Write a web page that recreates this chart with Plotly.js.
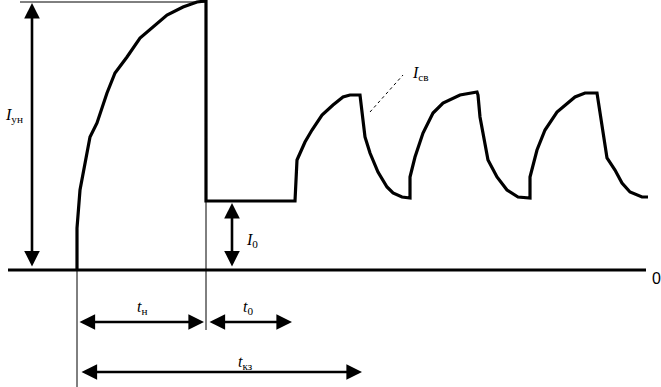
<!DOCTYPE html>
<html>
<head>
<meta charset="utf-8">
<script src="https://cdn.plot.ly/plotly-3.0.1.min.js"></script>
<style>html,body{margin:0;padding:0;background:#fff;}#chart{width:661px;height:387px;}</style>
</head>
<body>
<div id="chart"></div>
<script>
// Welding current waveform: time (t) and current (I), baseline I = 0
var waveT = [77,77,80,85,90,97,107,115,127,140,157,167,183,197,206,
             206,295,297,305,312,322,333,343,350,360,
             362,365,370,378,387,393,402,410,
             410,415,423,433,443,460,477,
             478,480,488,497,507,518,530,
             530,537,545,557,575,585,597,
             600,602,607,615,622,630,642,648];
var waveI = [0,42,80,107,133,147,177,197,213,232,247,255,263,268,269,
             69,69,110,128,140,155,165,173,175,175,
             157,133,117,98,83,77,73,72,
             93,113,137,157,167,175,178,
             175,153,110,93,80,73,72,
             93,120,140,158,173,177,177,
             157,140,112,100,87,78,73,73];
// baseline (time axis)
var axisT = [8, 646];
var axisI = [0, 0];
// labels
var labelIun = "<i>I</i><sub>ун</sub>";
var labelI0 = "<i>I</i><sub>0</sub>";
var labelIsv = "<i>I</i><sub>св</sub>";
var labelTn = "<i>t</i><sub>н</sub>";
var labelT0 = "<i>t</i><sub>0</sub>";
var labelTkz = "<i>t</i><sub>кз</sub>";
var labelZero = "0";

var thin = {color:'#000', width:1};
var traces = [
  {x: axisT, y: axisI, mode:'lines', line:{color:'#000', width:3}, hoverinfo:'skip'},
  {x: [20,205], y: [268,268], mode:'lines', line: thin, hoverinfo:'skip'},
  {x: [206,206], y: [69,-60], mode:'lines', line: thin, hoverinfo:'skip'},
  {x: [77,77], y: [0,-117], mode:'lines', line: thin, hoverinfo:'skip'},
  {x: [370,403], y: [158,195], mode:'lines', line:{color:'#000', width:1, dash:'dot'}, hoverinfo:'skip'},
  {x: waveT, y: waveI, mode:'lines', line:{color:'#000', width:3.2, shape:'linear'}, hoverinfo:'skip'}
];

function arrow(x, y, ax, ay) {
  return {x:x, y:y, ax:ax, ay:ay, xref:'x', yref:'y', axref:'x', ayref:'y',
          showarrow:true, arrowhead:2, arrowside:'end+start', arrowwidth:2.6,
          arrowsize:1.2, arrowcolor:'#000', standoff:0, startstandoff:0, text:''};
}
function label(x, y, txt, size) {
  return {x:x, y:y, xref:'x', yref:'y', text:txt, showarrow:false,
          font:{family:'Liberation Serif', size:size || 16, color:'#000'}};
}

var layout = {
  width:661, height:387,
  margin:{l:0, r:0, t:0, b:0},
  paper_bgcolor:'#fff', plot_bgcolor:'#fff',
  showlegend:false,
  xaxis:{range:[0,661], visible:false, fixedrange:true},
  yaxis:{range:[-117,270], visible:false, fixedrange:true},
  annotations:[
    arrow(32, 267, 32, 2),
    arrow(232, 67, 232, 2),
    arrow(204, -52, 78, -52),
    arrow(292, -52, 208, -52),
    arrow(362, -102, 80, -102),
    label(14, 155, labelIun),
    label(252, 30, labelI0),
    label(420, 197, labelIsv),
    label(142, -37, labelTn),
    label(248, -37, labelT0),
    label(245, -92, labelTkz),
    {x:656, y:-8, xref:'x', yref:'y', text:labelZero, showarrow:false,
     font:{family:'Liberation Sans Narrow, Liberation Sans', size:16, color:'#000'}}
  ]
};
Plotly.newPlot('chart', traces, layout, {displayModeBar:false});
</script>
</body>
</html>
